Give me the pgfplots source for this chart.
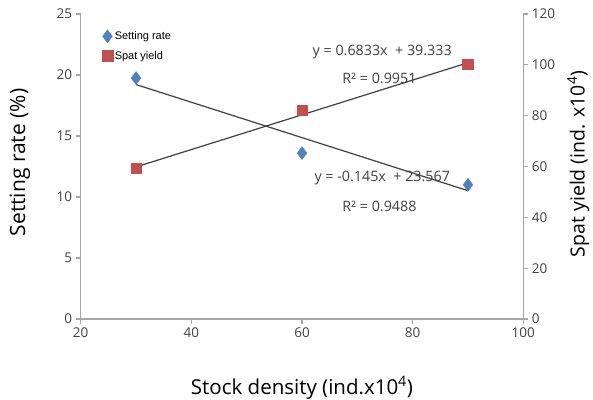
\documentclass[border=0pt]{standalone}
\usepackage{pgfplots}
\pgfplotsset{compat=1.18}
\usepackage{fontspec}
\setmainfont{Open Sans}
\newfontfamily\arialfont{Liberation Sans}
\definecolor{tickcol}{HTML}{404040}
\definecolor{axcol}{HTML}{A6A6A6}
\definecolor{sblue}{HTML}{4F81BD}
\definecolor{sred}{HTML}{C0504D}
\definecolor{trend}{HTML}{404040}
\begin{document}
\begin{tikzpicture}
\pgfplotsset{
  common/.style={
    scale only axis, width=442.6pt, height=305pt,
    xmin=20, xmax=100,
    axis line style={axcol, line width=1.2pt},
    tick style={axcol, line width=1.2pt},
    major tick length=5pt,
    tick align=outside,
    ticklabel style={font=\fontsize{13.5}{15}\selectfont, text=tickcol},
    /pgf/number format/assume math mode=true,
    clip=false,
  }
}
\begin{axis}[common, name=ax1,
  ymin=0, ymax=25, ytick={0,5,...,25},
  xtick={20,40,...,100},
  axis x line*=bottom, axis y line*=left,
  legend style={draw=none, fill=none, at={(axis cs:23.3,23.9)}, anchor=north west,
    font=\arialfont\fontsize{11}{12}\selectfont, row sep=6pt},
  legend cell align=left,
]
\addplot[only marks, mark=diamond*, mark size=6.5pt, color=sblue] coordinates {(30,19.75) (60,13.6) (90,11.0)};
\addlegendentry{Setting rate}
\addplot[trend, line width=1.2pt, forget plot] coordinates {(30,19.217) (90,10.517)};
\addlegendimage{only marks, mark=square*, mark size=5.3pt, color=sred}
\addlegendentry{Spat yield}
\node[font=\fontsize{14.3}{16}\selectfont, text=tickcol] at (axis cs:74.5,21.9) {y = 0.6833x \ + 39.333};
\node[font=\fontsize{14.3}{16}\selectfont, text=tickcol] at (axis cs:74.0,19.75) {R² = 0.9951};
\node[font=\fontsize{14.3}{16}\selectfont, text=tickcol] at (axis cs:74.5,11.55) {y = -0.145x \ + 23.567};
\node[font=\fontsize{14.3}{16}\selectfont, text=tickcol] at (axis cs:74.0,9.2) {R² = 0.9488};
\end{axis}
\begin{axis}[common,
  ymin=0, ymax=120, ytick={0,20,...,120},
  axis y line*=right, axis x line=none,
]
\addplot[trend, line width=1.2pt] coordinates {(30,59.832) (90,100.83)};
\addplot[only marks, mark=square*, mark size=5.3pt, color=sred] coordinates {(30,59.3) (60,82.2) (90,100.2)};
\end{axis}
\node[rotate=90, font=\fontsize{21}{24}\selectfont] at ([xshift=-60.7pt,yshift=156.5pt]ax1.south west) {Setting rate (\%)};
\node[rotate=90, font=\fontsize{19.5}{22}\selectfont] at ([xshift=55pt,yshift=155pt]ax1.south east) {Spat yield (ind. x10\textsuperscript{4})};
\node[font=\fontsize{20.5}{23}\selectfont] at ([yshift=-69pt]ax1.south) {Stock density (ind.x10\textsuperscript{4})};
\pgfresetboundingbox
\useasboundingbox ([xshift=-80.7pt,yshift=-80pt]ax1.south west) rectangle ([xshift=69.7pt,yshift=14pt]ax1.north east);
\end{tikzpicture}
\end{document}
